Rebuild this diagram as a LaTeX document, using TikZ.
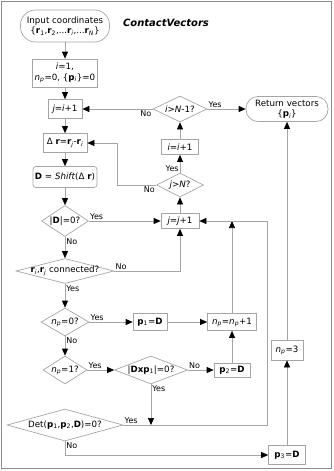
\documentclass[tikz,border=0pt]{standalone}
\usepackage{fontspec}
\setmainfont{DejaVu Sans}
\usepackage{xcolor}
\usepackage{tikz}
\usetikzlibrary{arrows.meta}
\usetikzlibrary{shapes.geometric}
\usetikzlibrary{calc}

\definecolor{linegray}{RGB}{165,165,165}
\definecolor{framegray}{RGB}{140,140,140}

\newcommand{\bv}[2]{\textbf{#1}\textsubscript{#2}}
\newcommand{\np}{\textit{n}\textsubscript{\textit{p}}}

\begin{document}
\begin{tikzpicture}[
    x=1pt, y=-1pt,
    font=\fontsize{8.7}{10.5}\selectfont,
    term/.style={
        draw=linegray,
        line width=0.7pt,
        rounded corners=12pt,
        inner sep=2pt,
        align=center
    },
    proc/.style={
        draw=linegray,
        line width=0.7pt,
        inner sep=2pt,
        align=center
    },
    dec/.style={
        diamond,
        aspect=2,
        draw=linegray,
        line width=0.7pt,
        inner sep=-2pt,
        align=center
    },
    lbl/.style={
        inner sep=1pt,
        font=\fontsize{8}{9}\selectfont
    },
    arr/.style={
        draw=linegray,
        line width=0.7pt,
        -{Triangle[length=7pt,width=6pt,color=black]}
    }
]
\useasboundingbox (0,0) rectangle (334,471);
\draw[framegray, line width=0.8pt] (1.5,1.5) rectangle (331.5,468.5);

% --- Start
\node[term, rounded corners=15pt, minimum width=89pt, minimum height=32pt] (input) at (65,26) {
Input coordinates\\
\{\bv{r}{1},\bv{r}{2},...\bv{r}{\textit{i}},...\bv{r}{\textit{N}}\}
};
\node[font=\fontsize{10}{12}\selectfont\bfseries\itshape] (title) at (166,23) {ContactVectors};

\node[proc, minimum width=60pt, minimum height=28pt] (init) at (65,73) {
\textit{i}=1,\\
\np=0, \{\bv{p}{\textit{i}}\}=0
};

% --- Outer loop
\node[proc, minimum width=34pt, minimum height=19pt] (ji) at (65,109) {\textit{j}=\textit{i}+1};
\node[dec, minimum width=54pt, minimum height=26pt] (iN) at (180,109) {\textit{i}>\textit{N}-1?};
\node[term, minimum width=82pt, minimum height=25pt] (ret) at (287,109) {
Return vectors\\
\{\bv{p}{\textit{i}}\}
};
\node[proc, minimum width=37pt, minimum height=15pt] (ii) at (180,147) {\textit{i}=\textit{i}+1};
\node[dec, minimum width=47pt, minimum height=24pt] (jN) at (180,185) {\textit{j}>\textit{N}?};

% --- Main column
\node[proc, minimum width=44pt, minimum height=19pt] (dr) at (65,143) {Δ \textbf{r}=\bv{r}{\textit{j}}-\bv{r}{\textit{i}}};
\node[proc, rounded corners=3pt, minimum width=62pt, minimum height=21pt] (shift) at (65,177) {\textbf{D} = \textit{Shift}(Δ \textbf{r})};
\node[dec, aspect=1.5, minimum width=47pt, minimum height=31pt] (dz) at (65,221) {|\textbf{D}|=0?};
\node[proc, minimum width=38pt, minimum height=15pt] (jj) at (180,221) {\textit{j}=\textit{j}+1};
\node[dec, aspect=3.9, minimum width=98pt, minimum height=25pt] (con) at (65,271) {\bv{r}{\textit{i}},\bv{r}{\textit{j}} connected?};
\node[dec, aspect=1.7, minimum width=48pt, minimum height=28pt] (n0) at (65,322) {\np=0?};
\node[proc, minimum width=34pt, minimum height=17pt] (p1) at (150,322) {\bv{p}{1}=\textbf{D}};
\node[proc, minimum width=49pt, minimum height=17pt] (np1) at (232,322) {\np=\np+1};
\node[dec, aspect=1.6, minimum width=44pt, minimum height=28pt] (n1) at (65,370) {\np=1?};
\node[dec, aspect=2.6, minimum width=73pt, minimum height=28pt] (dx) at (151,370) {|\textbf{Dxp}\textsubscript{1}|=0?};
\node[proc, minimum width=36pt, minimum height=14pt] (p2) at (232,370) {\bv{p}{2}=\textbf{D}};
\node[proc, minimum width=32pt, minimum height=20pt] (np3) at (287,350) {\np=3};
\node[dec, aspect=3.6, minimum width=116pt, minimum height=32pt] (det) at (65,425) {Det(\bv{p}{1},\bv{p}{2},\textbf{D})=0?};
\node[proc, minimum width=37pt, minimum height=19pt] (p3) at (287,455) {\bv{p}{3}=\textbf{D}};

\coordinate (loopL) at (117,185);
\coordinate (loopR) at (267,425);

% --- Connections
\draw[arr] (input) -- (init);
\draw[arr] (init) -- (ji);
\draw[arr] (ji) -- (dr);
\draw[arr] (dr) -- (shift);
\draw[arr] (shift) -- (dz);
\draw[arr] (iN.east) -- node[lbl, pos=0, above right] {Yes} (ret.west);
\draw[arr] (iN.west) -- node[lbl, pos=0, below left] {No} (ji.east);
\draw[arr] (jj) -- (jN);
\draw[arr] (jN) -- node[lbl, pos=0, above left] {Yes} (ii);
\draw[arr] (ii) -- (iN);
\draw[arr] (jN.west) -- node[lbl, pos=0, below left] {No} (loopL) |- (dr.east);
\draw[arr] (dz) -- node[lbl, pos=0, above right] {Yes} (jj);
\draw[arr] (dz) -- node[lbl, pos=0, below right] {No} (con);
\draw[arr] (con.east) -| node[lbl, pos=0, above right] {No} (jj.south);
\draw[arr] (con) -- node[lbl, pos=0, below right] {Yes} (n0);
\draw[arr] (n0) -- node[lbl, pos=0, above right] {Yes} (p1);
\draw[arr] (p1) -- (np1);
\draw[arr] (np1.north) -- (np1.north |- jj.east);
\draw[arr] (p2) -- (np1);
\draw[arr] (n0) -- node[lbl, pos=0, below right] {No} (n1);
\draw[arr] (n1) -- node[lbl, pos=0, above right] {Yes} (dx);
\draw[arr] (dx) -- node[lbl, pos=0, above right] {No} (p2);
\draw[arr] (dx.south) -- node[lbl, pos=0, below right] {Yes} (dx.south |- det.east);
\draw[arr] (det.east) -- node[lbl, pos=0, above right] {Yes} (loopR) |- (jj.east);
\draw[arr] (det.south) |- node[lbl, pos=0, below right] {No} (p3.west);
\draw[arr] (p3) -- (np3);
\draw[arr] (np3) -- (ret);

\end{tikzpicture}
\end{document}
